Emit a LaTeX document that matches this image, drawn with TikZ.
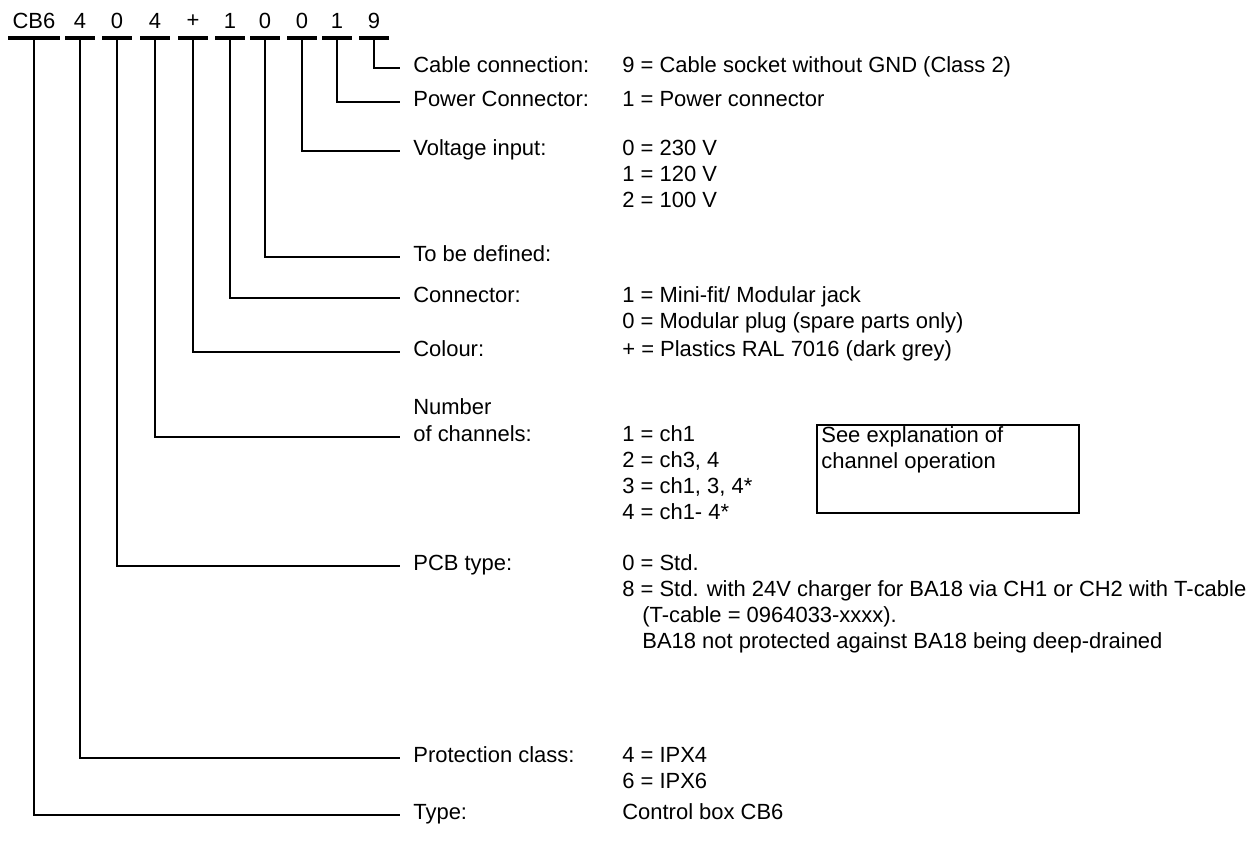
\documentclass[tikz,border=0pt]{standalone}
\usepackage{fontspec}
\setmainfont{Liberation Sans}
\usetikzlibrary{positioning}

\begin{document}
\begin{tikzpicture}[
    x=0.02cm, y=-0.02cm,
    every node/.style={font=\fontsize{12.5}{15}\selectfont},
    digit/.style={inner sep=0pt},
    bar/.style={rectangle, fill=black, inner sep=0pt, minimum width=0.6cm, minimum height=0.08cm},
    field/.style={anchor=west, inner sep=0pt, inner xsep=0.26cm, text height=0.72em, text depth=0.2em},
    val/.style={anchor=west, inner sep=0pt, text height=0.72em, text depth=0.2em},
    lead/.style={line width=0.85pt},
    infobox/.style={rectangle, draw, line width=1.4pt, minimum width=5.24cm, minimum height=1.76cm, anchor=north west, inner sep=0pt}
]
\useasboundingbox (0,0) rectangle (1254,841);

% type code
\node (dType) [digit] at (34,21) {CB6};
\node (dProt) [digit] at (80,21) {4};
\node (dPCB) [digit] at (117,21) {0};
\node (dChan) [digit] at (155,21) {4};
\node (dColour) [digit] at (193,21) {+};
\node (dConn) [digit] at (230,21) {1};
\node (dDef) [digit] at (265,21) {0};
\node (dVolt) [digit] at (302,21) {0};
\node (dPower) [digit] at (337,21) {1};
\node (dCable) [digit] at (374,21) {9};

\node (bType) [bar, minimum width=1.04cm] at (34,38) {};
\node (bProt) [bar] at (80,38) {};
\node (bPCB) [bar] at (117,38) {};
\node (bChan) [bar] at (155,38) {};
\node (bColour) [bar] at (193,38) {};
\node (bConn) [bar] at (230,38) {};
\node (bDef) [bar] at (265,38) {};
\node (bVolt) [bar] at (302,38) {};
\node (bPower) [bar] at (337,38) {};
\node (bCable) [bar] at (374,38) {};

% fields
\node (fCable) [field] at (400,68) {Cable connection:};
\node (fPower) [field] at (400,102) {Power Connector:};
\node (fVolt) [field] at (400,151) {Voltage input:};
\node (fDef) [field] at (400,257) {To be defined:};
\node (fConn) [field] at (400,298) {Connector:};
\node (fColour) [field] at (400,352) {Colour:};
\node (fNum) [field] at (400,410) {Number};
\node (fChan) [field] at (400,437) {of channels:};
\node (fPCB) [field] at (400,566) {PCB type:};
\node (fProt) [field] at (400,758) {Protection class:};
\node (fType) [field] at (400,815) {Type:};

% values
\node (vCable) [val] at (622,68) {9 = Cable socket without GND (Class 2)};
\node (vPower) [val] at (622,102) {1 = Power connector};
\node (vVoltA) [val] at (622,151) {0 = 230 V};
\node (vVoltB) [val] at (622,177) {1 = 120 V};
\node (vVoltC) [val] at (622,203) {2 = 100 V};
\node (vConnA) [val] at (622,298) {1 = Mini-fit/ Modular jack};
\node (vConnB) [val] at (622,324) {0 = Modular plug (spare parts only)};
\node (vColour) [val] at (622,352) {+ = Plastics RAL 7016 (dark grey)};
\node (vChanA) [val] at (622,437) {1 = ch1};
\node (vChanB) [val] at (622,463) {2 = ch3, 4};
\node (vChanC) [val] at (622,489) {3 = ch1, 3, 4*};
\node (vChanD) [val] at (622,515) {4 = ch1- 4*};
\node (vPCBA) [val] at (622,566) {0 = Std.};
\node (vPCBB) [val] at (622,592) {8 = Std. with 24V charger for BA18 via CH1 or CH2 with T-cable};
\node (vPCBC) [val] at (642,618) {(T-cable = 0964033-xxxx).};
\node (vPCBD) [val] at (642,644) {BA18 not protected against BA18 being deep-drained};
\node (vProtA) [val] at (622,758) {4 = IPX4};
\node (vProtB) [val] at (622,784) {6 = IPX6};
\node (vType) [val] at (622,815) {Control box CB6};

% note box
\node (seebox) [infobox] at (816,424) {};
\node (seeA) [val] at (821,438) {See explanation of};
\node (seeB) [val] at (821,464) {channel operation};

% leads
\draw[lead] (bCable.south) |- (fCable.west);
\draw[lead] (bPower.south) |- (fPower.west);
\draw[lead] (bVolt.south) |- (fVolt.west);
\draw[lead] (bDef.south) |- (fDef.west);
\draw[lead] (bConn.south) |- (fConn.west);
\draw[lead] (bColour.south) |- (fColour.west);
\draw[lead] (bChan.south) |- (fChan.west);
\draw[lead] (bPCB.south) |- (fPCB.west);
\draw[lead] (bProt.south) |- (fProt.west);
\draw[lead] (bType.south) |- (fType.west);

\end{tikzpicture}
\end{document}
